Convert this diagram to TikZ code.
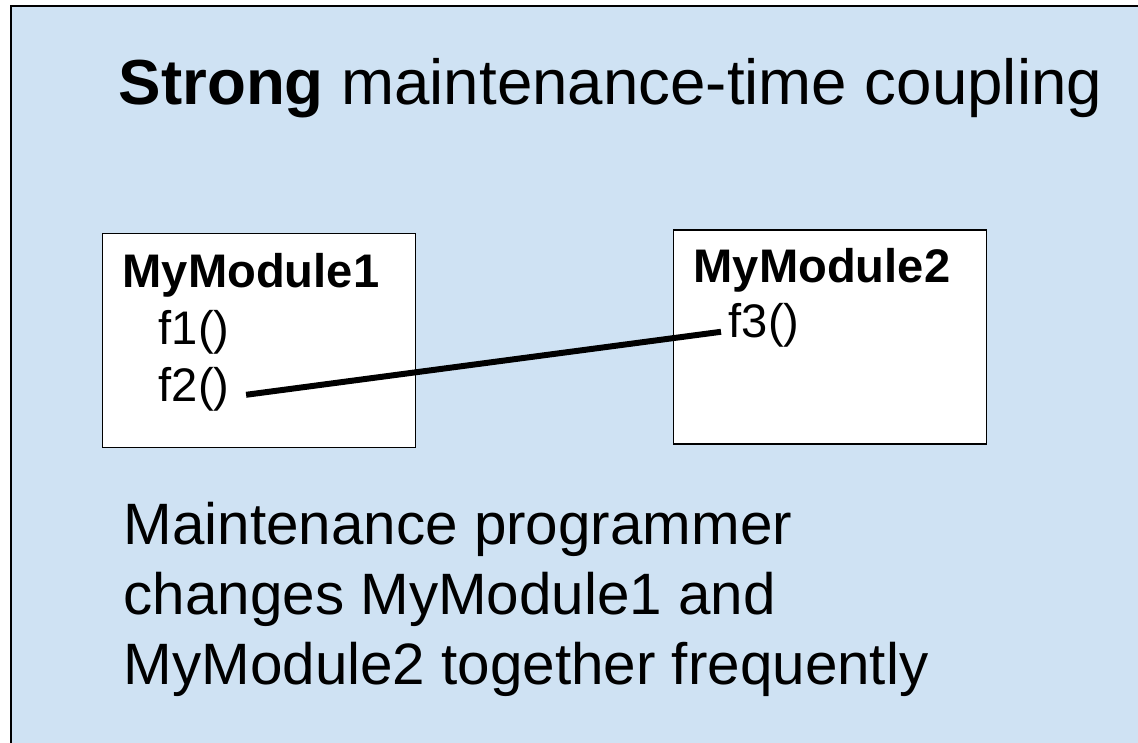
\documentclass[tikz,border=0pt]{standalone}
\usepackage{fontspec}
\setmainfont{Liberation Sans}
\usetikzlibrary{calc}
\definecolor{slidebg}{HTML}{CFE2F3}

\begin{document}
\begin{tikzpicture}[x=0.01cm, y=-0.01cm,
	modbox/.style={draw=black, line width=0.35pt, fill=white, minimum width=3.13cm, minimum height=2.14cm, inner sep=0pt},
	txt/.style={anchor=base west, inner sep=0pt},
	modfont/.style={font=\fontsize{13.4}{16.1}\selectfont},
	notefont/.style={font=\fontsize{16.6}{19.9}\selectfont},
	link/.style={line width=1.7pt}]

	\useasboundingbox (0,0) rectangle (1138,743);

	% slide background
	\draw[fill=slidebg, line width=0.6pt] (11,6) rectangle (1170,780);

	% title
	\node[txt, font=\fontsize{18.1}{21.7}\selectfont] (title) at (118,105) {\textbf{Strong} maintenance-time coupling};

	% the two modules
	\node[modbox] (m1) at (259,340.5) {};
	\node[modbox] (m2) at (830,337) {};

	\node[txt, modfont] (name1) at (122,288) {\textbf{MyModule1}};
	\node[txt, modfont] (f1) at (158,345) {f1()};
	\node[txt, modfont] (f2) at (158,402) {f2()};

	\node[txt, modfont] (name2) at (693,283) {\textbf{MyModule2}};
	\node[txt, modfont] (f3) at (728,338) {f3()};

	% coupling between f2 and f3
	\draw[link] ($(f2.east)+(16,5)$) -- ($(f3.west)+(-7,6)$);

	% note
	\node[txt, notefont] (note1) at (123,545) {Maintenance programmer};
	\node[txt, notefont] (note2) at (123,615) {changes MyModule1 and};
	\node[txt, notefont] (note3) at (123,685) {MyModule2 together frequently};

\end{tikzpicture}
\end{document}
